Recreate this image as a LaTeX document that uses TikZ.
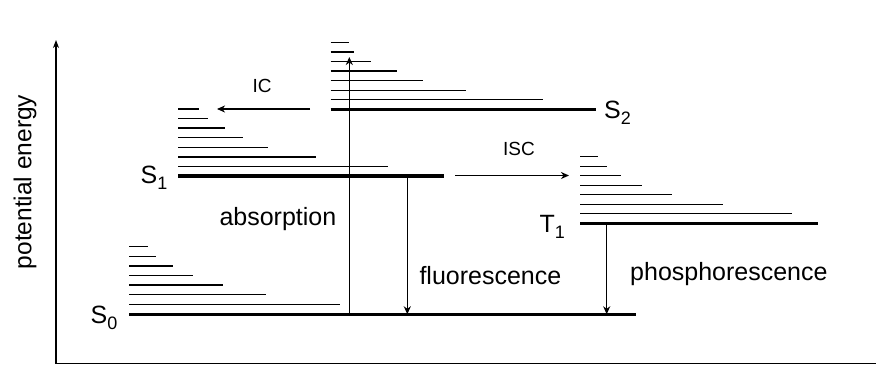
\documentclass[tikz,border=0pt]{standalone}
\usepackage{fontspec}
\setmainfont{Liberation Sans}
\usetikzlibrary{arrows.meta}
\newcommand{\lblsub}[2]{#1\raisebox{-6pt}{\fontsize{18}{20}\selectfont #2}}
\begin{document}
\begin{tikzpicture}[x=1pt,y=-1pt,
  axisline/.style={line width=1.3pt},
  sublevel/.style={line width=1.3pt},
  mainlevel/.style={line width=3.3pt},
  trans/.style={line width=1.2pt,-{Stealth[length=8pt,width=7pt,inset=2.5pt]}},
  biglbl/.style={font=\fontsize{25}{30}\selectfont,inner sep=0pt,anchor=base west},
  smalllbl/.style={font=\fontsize{19}{22}\selectfont,inner sep=0pt,anchor=base west}]
\useasboundingbox (0,0) rectangle (876,365);
% axes
\coordinate (origin) at (56,363.5);
\coordinate (ytop) at (56,40);
\coordinate (xend) at (876,363.5);
\draw[axisline,-{Stealth[length=8pt,width=6pt,inset=2.5pt]}] (origin) -- (ytop);
\draw[axisline] (origin) -- (xend);
\node[font=\fontsize{24.5}{28}\selectfont,rotate=90,inner sep=0pt] (pe) at (25,182) {potential energy};
% S0 manifold
\foreach \e [count=\i from 0] in {147.7,156,173.3,192.7,222.7,265.7,340}
  \draw[sublevel] (129.3,246.7+\i*9.6) -- (\e,246.7+\i*9.6);
\draw[mainlevel] (129.3,314.3) -- (636,314.3);
% S1 manifold
\foreach \e [count=\i from 0] in {199,207.7,224.7,243,267.7,316,388.3}
  \draw[sublevel] (178.3,109+\i*9.57) -- (\e,109+\i*9.57);
\draw[mainlevel] (178.3,176) -- (444,176);
% S2 manifold
\foreach \e [count=\i from 0] in {348.7,354,371,396.7,422.7,465.7,542.7}
  \draw[sublevel] (330.7,42.3+\i*9.57) -- (\e,42.3+\i*9.57);
\draw[mainlevel] (330.7,109.3) -- (596,109.3);
% T1 manifold
\foreach \e [count=\i from 0] in {597.7,607.3,620.7,641.7,671.7,723.3,792.3}
  \draw[sublevel] (580,156.7+\i*9.51) -- (\e,156.7+\i*9.51);
\draw[mainlevel] (580,223.3) -- (818.3,223.3);
% state labels
\node[biglbl] (s0) at (90.5,323) {\lblsub{S}{0}};
\node[biglbl] (s1) at (140.5,183.3) {\lblsub{S}{1}};
\node[biglbl] (s2) at (604,118.5) {\lblsub{S}{2}};
\node[biglbl] (t1) at (539.5,232.7) {\lblsub{T}{1}};
% transitions
\coordinate (absA) at (349.3,314.3);
\coordinate (absB) at (349.3,57);
\coordinate (fluA) at (407.3,176);
\coordinate (fluB) at (407.3,314.3);
\coordinate (phoA) at (606.7,223.3);
\coordinate (phoB) at (606.7,314.3);
\coordinate (icA) at (310,109);
\coordinate (icB) at (217,109);
\coordinate (iscA) at (455,175.5);
\coordinate (iscB) at (569,175.5);
\draw[trans] (absA) -- (absB);
\draw[trans] (fluA) -- (fluB);
\draw[trans] (phoA) -- (phoB);
\draw[trans] (icA) -- (icB);
\draw[trans] (iscA) -- (iscB);
% transition labels
\node[biglbl] (labs) at (219.3,225) {absorption};
\node[biglbl] (lflu) at (419.3,284.3) {fluorescence};
\node[biglbl] (lpho) at (630,280.7) {phosphorescence};
\node[smalllbl] (lic) at (252.5,92) {IC};
\node[smalllbl] (lisc) at (503,155) {ISC};
\end{tikzpicture}
\end{document}
